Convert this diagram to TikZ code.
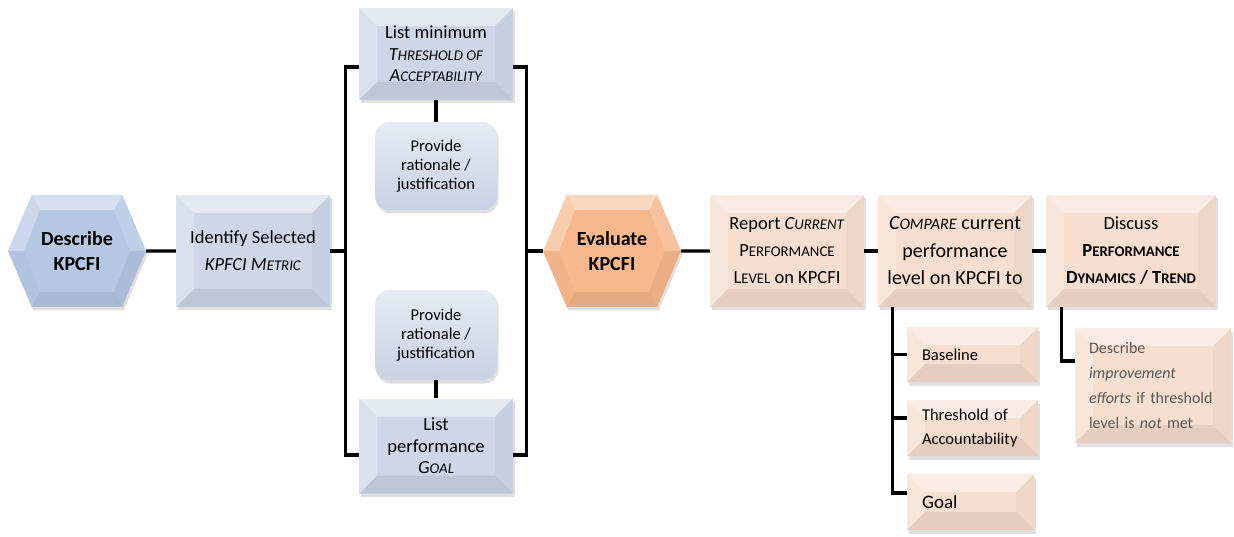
\documentclass[tikz,border=0pt]{standalone}
\usepackage{fontspec}
\setmainfont{Carlito}
\usetikzlibrary{positioning,shapes.symbols,shadows,calc}

\definecolor{hexblue}{RGB}{182,199,228}
\definecolor{boxblue}{RGB}{206,215,232}
\definecolor{rattop}{RGB}{230,235,244}
\definecolor{ratbot}{RGB}{200,210,228}
\definecolor{hexorange}{RGB}{246,184,140}
\definecolor{boxpeach}{RGB}{247,222,206}
\definecolor{notegrey}{RGB}{89,89,89}

% small capitals drawn by hand: first letter, then the rest in smaller capitals
\makeatletter
\newcommand\smc[2]{#1{\fontsize{\fpeval{0.8*\f@size}}{\f@baselineskip}\selectfont\MakeUppercase{#2}}}
\makeatother

\tikzset{
  % light top/left and dark bottom/right facets of a box
  bevel/.style={path picture={
    \path (path picture bounding box.south west) coordinate (bA)
          (path picture bounding box.north east) coordinate (bB)
          (path picture bounding box.north west) coordinate (bC)
          (path picture bounding box.south east) coordinate (bD);
    \fill[white,opacity=.45] (bC) -- (bB) -- ($(bB)+(-18pt,-18pt)$) -- ($(bC)+(18pt,-18pt)$) -- cycle;
    \fill[white,opacity=.25] (bC) -- (bA) -- ($(bA)+(18pt,18pt)$) -- ($(bC)+(18pt,-18pt)$) -- cycle;
    \fill[black,opacity=.03] (bB) -- (bD) -- ($(bD)+(-18pt,18pt)$) -- ($(bB)+(-18pt,-18pt)$) -- cycle;
    \fill[black,opacity=.07] (bA) -- (bD) -- ($(bD)+(-18pt,18pt)$) -- ($(bA)+(18pt,18pt)$) -- cycle;
  }},
  % same facets for the hexagons
  hexbevel/.style={path picture={
    \path (path picture bounding box.south west) coordinate (hA)
          (path picture bounding box.north east) coordinate (hB)
          ($(hA)!.5!(hB)$) coordinate (hM);
    \path (hA |- hM) coordinate (hW) (hB |- hM) coordinate (hE)
          ($(hA |- hB)+(24pt,0)$) coordinate (hNW) ($(hB)+(-24pt,0)$) coordinate (hNE)
          ($(hA)+(24pt,0)$) coordinate (hSW) ($(hB |- hA)+(-24pt,0)$) coordinate (hSE)
          ($(hW)+(16pt,0)$) coordinate (iW) ($(hE)+(-16pt,0)$) coordinate (iE)
          ($(hNW)+(8pt,-15pt)$) coordinate (iNW) ($(hNE)+(-8pt,-15pt)$) coordinate (iNE)
          ($(hSW)+(8pt,15pt)$) coordinate (iSW) ($(hSE)+(-8pt,15pt)$) coordinate (iSE);
    \fill[white,opacity=.45] (hNW) -- (hNE) -- (iNE) -- (iNW) -- cycle;
    \fill[white,opacity=.3] (hW) -- (hNW) -- (iNW) -- (iW) -- cycle;
    \fill[white,opacity=.15] (hNE) -- (hE) -- (iE) -- (iNE) -- cycle;
    \fill[black,opacity=.02] (hW) -- (hSW) -- (iSW) -- (iW) -- cycle;
    \fill[black,opacity=.05] (hE) -- (hSE) -- (iSE) -- (iE) -- cycle;
    \fill[black,opacity=.07] (hSW) -- (hSE) -- (iSE) -- (iSW) -- cycle;
  }},
  boxshadow/.style={drop shadow={opacity=.25,shadow xshift=1.5pt,shadow yshift=-3.5pt}}
}

\begin{document}
\begin{tikzpicture}[
   x=1pt, y=1pt,
   conn/.style={line width=3.2pt, black},
   hexa/.style={signal, signal to=west and east, signal from=nowhere, signal pointer angle=134,
      minimum width=138pt, minimum height=112pt, inner sep=0pt, align=center,
      font=\bfseries\fontsize{20}{25}\selectfont, hexbevel, boxshadow},
   stepbox/.style={rectangle, minimum width=154pt, minimum height=112pt, inner sep=0pt,
      align=center, font=\fontsize{18.5}{27}\selectfont, bevel, boxshadow},
   ratbox/.style={rectangle, rounded corners=14pt, minimum width=122pt, minimum height=88pt,
      inner sep=0pt, align=center, top color=rattop, bottom color=ratbot,
      font=\fontsize{16.5}{19}\selectfont, boxshadow},
   subbox/.style={rectangle, fill=boxpeach, inner xsep=15pt, inner ysep=0pt, align=left,
      minimum height=55pt, font=\fontsize{16.5}{24}\selectfont, bevel, boxshadow}
]
\useasboundingbox (0,0) rectangle (1234,-537);

% describe stage
\node[hexa, fill=hexblue] (describe) at (77,-251) {Describe\\KPCFI};
\node[stepbox, fill=boxblue] (identify) at (253,-251) {Identify Selected\\\textit{KPFCI \smc{M}{etric}}};
\node[stepbox, fill=boxblue, minimum height=92pt, font=\fontsize{18.5}{21.5}\selectfont] (thresh) at (436,-54)
   {List minimum\\\textit{\smc{T}{hreshold of}}\\\textit{\smc{A}{cceptability}}};
\node[ratbox] (ratTop) at (436,-166) {Provide\\rationale /\\justification};
\node[ratbox, minimum height=90pt] (ratBot) at (436,-335) {Provide\\rationale /\\justification};
\node[stepbox, fill=boxblue, minimum height=95pt, font=\fontsize{18.5}{21.5}\selectfont] (perfgoal) at (436,-446)
   {List\\performance\\\textit{\smc{G}{oal}}};

% evaluate stage
\node[hexa, fill=hexorange] (evaluate) at (612,-251) {Evaluate\\KPCFI};
\node[stepbox, fill=boxpeach] (report) at (787,-251)
   {Report \textit{\smc{C}{urrent}}\\\smc{P}{erformance}\\\smc{L}{evel} on KPCFI};
\node[stepbox, fill=boxpeach, font=\fontsize{20}{27.5}\selectfont] (compare) at (955,-251)
   {\textit{\smc{C}{ompare}} current\\performance\\level on KPCFI to};
\node[stepbox, fill=boxpeach, minimum width=170pt] (discuss) at (1131,-251)
   {Discuss\\\textbf{\smc{P}{erformance}}\\\textbf{\smc{D}{ynamics} / \smc{T}{rend}}};
\node[subbox, text width=101pt] (baseline) at (972.5,-354.5) {Baseline};
\node[subbox, text width=101pt, minimum height=56pt] (accnt) at (972.5,-428) {Threshold of\\Accountability};
\node[subbox, text width=97pt, minimum height=56pt, font=\fontsize{19}{22}\selectfont] (goalsub) at (970.5,-502) {Goal};
\node[subbox, text width=128pt, inner xsep=14pt, minimum height=115pt, text=notegrey, font=\fontsize{16}{25}\selectfont] (improve) at (1153,-385.5)
   {Describe\\\textit{improvement}\\\textit{efforts} if threshold\\level is \textit{not} met};

% connectors
\coordinate[right=15pt of identify.east] (lbr);
\coordinate[left=16pt of evaluate.west] (rbr);
\draw[conn] (describe) -- (identify);
\draw[conn] (identify.east) -- (lbr);
\draw[conn] ([yshift=-13pt]thresh.west) -| (lbr) |- ([yshift=-9pt]perfgoal.west);
\draw[conn] ([yshift=-13pt]thresh.east) -| (rbr) |- ([yshift=-9pt]perfgoal.east);
\draw[conn] (rbr) -- (evaluate.west);
\draw[conn] (thresh.south) -- (ratTop.north);
\draw[conn] (ratBot.south) -- (perfgoal.north);
\draw[conn] (evaluate) -- (report);
\draw[conn] (report) -- (compare);
\draw[conn] (compare) -- (discuss);

\coordinate (cv) at ([xshift=15pt]compare.south west);
\draw[conn] (cv) |- ([yshift=9pt]goalsub.west);
\draw[conn] (cv) |- (baseline.west);
\draw[conn] (cv) |- ([yshift=10pt]accnt.west);
\coordinate (dv) at ([xshift=16pt]discuss.south west);
\draw[conn] (dv) |- ([yshift=24.5pt]improve.west);
\end{tikzpicture}
\end{document}
